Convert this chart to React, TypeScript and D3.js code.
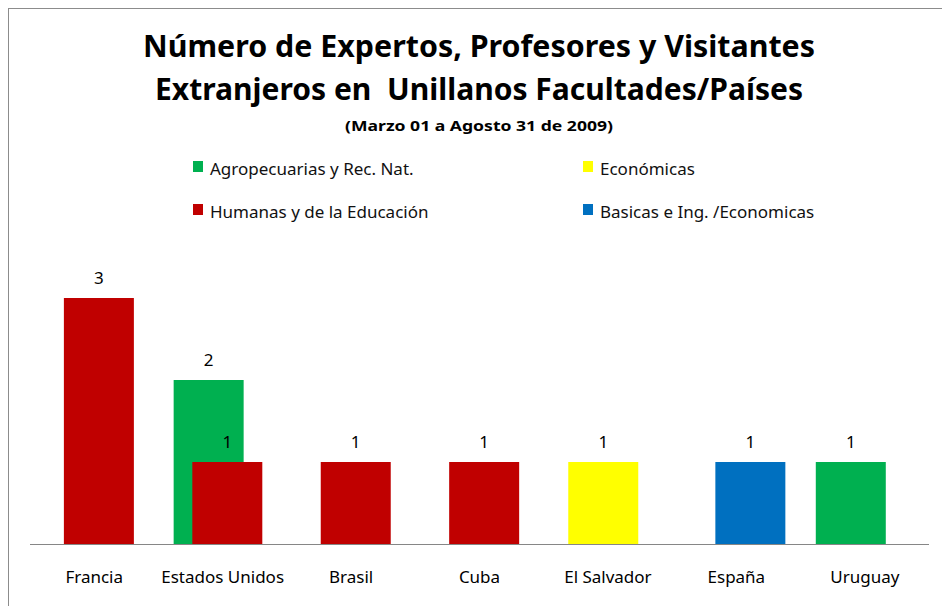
import React from "react";
import * as d3 from "d3";

const categories = ["Francia", "Estados Unidos", "Brasil", "Cuba", "El Salvador", "España", "Uruguay"];
const seriesNames = [
  "Agropecuarias y Rec. Nat.",
  "Económicas",
  "Humanas y de la Educación",
  "Basicas e Ing. /Economicas",
];
const agroValues = [null, 2, null, null, null, null, 1];
const economicasValues = [null, null, null, null, 1, null, null];
const humanasValues = [3, 1, 1, 1, null, null, null];
const basicasValues = [null, null, null, null, null, 1, null];
const seriesColors = ["#00B050", "#FFFF00", "#C00000", "#0070C0"];

const titleLine1 = "Número de Expertos, Profesores y Visitantes";
const titleLine2 = "Extranjeros en  Unillanos Facultades/Países";
const subtitle = "(Marzo 01 a Agosto 31 de 2009)";

const FONT = "'Noto Sans', 'Open Sans', sans-serif";

export default function App() {
  const W = 942;
  const H = 606;
  const plotLeft = 30;
  const plotRight = 929;
  const baseY = 544;

  const seriesValues = [agroValues, economicasValues, humanasValues, basicasValues];

  const x = d3.scaleBand<string>().domain(categories).range([plotLeft, plotRight]).paddingInner(0).paddingOuter(0);
  const y = d3.scaleLinear().domain([0, 3]).range([baseY, 298]);
  const barW = x.bandwidth() * 0.545;
  const offset = d3.scalePoint<string>().domain(seriesNames).range([-x.bandwidth() * 0.109, x.bandwidth() * 0.109]);

  const legendPos = [
    { x: 193, y: 161 },
    { x: 583, y: 161 },
    { x: 193, y: 204 },
    { x: 583, y: 204 },
  ];

  return (
    <svg
      width={W}
      height={H}
      style={{ position: "fixed", left: 0, top: 0, display: "block", background: "#fff" }}
      fontFamily={FONT}
    >
      <rect x={0} y={0} width={W} height={H} fill="#fff" />
      <rect x={8.5} y={8.5} width={W + 20} height={H + 20} fill="#fff" stroke="#8c8c8c" strokeWidth={1} />

      <text x={479} y={57} textAnchor="middle" fontWeight="bold" fontSize={31} fill="#000" textLength={672} lengthAdjust="spacingAndGlyphs">
        {titleLine1}
      </text>
      <text x={479} y={100} textAnchor="middle" fontWeight="bold" fontSize={31} fill="#000" textLength={648} lengthAdjust="spacingAndGlyphs" style={{ whiteSpace: "pre" }}>
        {titleLine2}
      </text>
      <text x={479} y={131} textAnchor="middle" fontWeight="bold" fontSize={15} fill="#000" textLength={268} lengthAdjust="spacingAndGlyphs">
        {subtitle}
      </text>

      {seriesNames.map((s, i) => (
        <g key={s}>
          <rect x={legendPos[i].x} y={legendPos[i].y} width={10} height={11} fill={seriesColors[i]} />
          <text x={legendPos[i].x + 17} y={legendPos[i].y + 14} fontSize={17} fill="#111">
            {s}
          </text>
        </g>
      ))}

      {seriesNames.map((s, si) => (
        <g key={s}>
          {categories.map((c, ci) => {
            const v = seriesValues[si][ci];
            if (v == null) return null;
            const cx = (x(c) as number) + x.bandwidth() / 2 + (offset(s) as number);
            return (
              <g key={c}>
                <rect x={cx - barW / 2} y={y(v)} width={barW} height={y(0) - y(v)} fill={seriesColors[si]} />
                <text x={cx} y={y(v) - 14} textAnchor="middle" fontSize={17} fill="#000">
                  {v}
                </text>
              </g>
            );
          })}
        </g>
      ))}

      <line x1={plotLeft} x2={plotRight} y1={baseY + 0.5} y2={baseY + 0.5} stroke="#868686" strokeWidth={1} />

      {categories.map((c) => (
        <text key={c} x={(x(c) as number) + x.bandwidth() / 2} y={583} textAnchor="middle" fontSize={17} fill="#000">
          {c}
        </text>
      ))}
    </svg>
  );
}
